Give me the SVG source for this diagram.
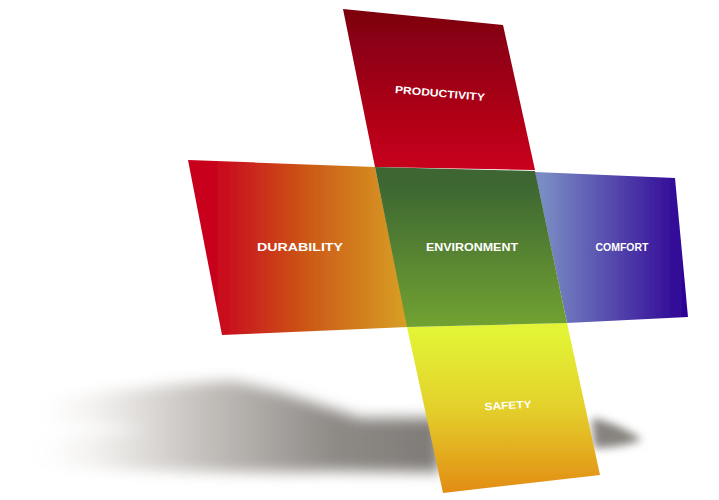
<svg xmlns="http://www.w3.org/2000/svg" width="719" height="500" viewBox="0 0 719 500">
<defs>
<linearGradient id="gTop" x1="0" y1="0" x2="0" y2="1"><stop offset="0" stop-color="#7c0010"/><stop offset="1" stop-color="#c9001c"/></linearGradient>
<linearGradient id="gLeft" x1="0" y1="0" x2="1" y2="0"><stop offset="0.1" stop-color="#c8001c"/><stop offset="0.55" stop-color="#cc5a18"/><stop offset="1" stop-color="#d8a024"/></linearGradient>
<linearGradient id="gMid" x1="0" y1="0" x2="0" y2="1"><stop offset="0.1" stop-color="#3c6632"/><stop offset="1" stop-color="#72a232"/></linearGradient>
<linearGradient id="gRight" x1="0" y1="0" x2="1" y2="0"><stop offset="0.05" stop-color="#7a8cc4"/><stop offset="1" stop-color="#2c0094"/></linearGradient>
<linearGradient id="gBot" x1="0" y1="0" x2="0" y2="1"><stop offset="0.05" stop-color="#e2f434"/><stop offset="0.5" stop-color="#e4d02c"/><stop offset="1" stop-color="#e28c14"/></linearGradient>
<linearGradient id="gShadow" x1="0" y1="0" x2="1" y2="0"><stop offset="0" stop-color="#ffffff" stop-opacity="0"/><stop offset="0.2" stop-color="#f0eeec"/><stop offset="0.45" stop-color="#c2beba"/><stop offset="0.75" stop-color="#8e8a86"/><stop offset="1" stop-color="#7e7a76"/></linearGradient>
<filter id="blur" x="-20%" y="-50%" width="140%" height="200%"><feGaussianBlur stdDeviation="7"/></filter>
<filter id="blur2" x="-50%" y="-100%" width="200%" height="300%"><feGaussianBlur stdDeviation="4"/></filter>
<filter id="soft"><feGaussianBlur stdDeviation="0.6"/></filter>
</defs>
<style>
.lbl{font-family:"Liberation Sans",Arial,sans-serif;font-weight:bold;font-size:10.5px;fill:#ffffff;text-anchor:middle;dominant-baseline:central}
</style>
<g id="shadow">
<path filter="url(#blur)" d="M45,398 C110,392 180,382 232,381 C275,388 320,405 360,418 L440,418 L440,472 L330,471 C250,474 120,470 18,466 L20,438 C70,434 120,432 150,429 C110,425 70,424 45,424 Z" fill="url(#gShadow)"/>
<path filter="url(#blur2)" d="M592,418 C612,422 632,432 642,440 C625,446 607,448 594,448 Z" fill="#86827e"/>
</g>
<g id="productivity">
<polygon points="343,9 503,25 535,170 375,167" fill="url(#gTop)" filter="url(#soft)"/>
<text class="lbl" x="440" y="93" textLength="90" lengthAdjust="spacingAndGlyphs" transform="rotate(5 440 93)">PRODUCTIVITY</text>
</g>
<g id="durability">
<polygon points="188,160 375,167 408,327 222,335" fill="url(#gLeft)" filter="url(#soft)"/>
<text class="lbl" x="300" y="247" textLength="86" lengthAdjust="spacingAndGlyphs">DURABILITY</text>
</g>
<g id="comfort">
<polygon points="535,172 675,178 688,317 567,323" fill="url(#gRight)" filter="url(#soft)"/>
<text class="lbl" x="622" y="247" textLength="53" lengthAdjust="spacingAndGlyphs">COMFORT</text>
</g>
<g id="safety">
<polygon points="407,327 567,323 600,475 443,493" fill="url(#gBot)" filter="url(#soft)"/>
<text class="lbl" x="508" y="405" textLength="47" lengthAdjust="spacingAndGlyphs" transform="rotate(-3 508 405)">SAFETY</text>
</g>
<g id="environment">
<polygon points="375,167 535,171 567,323 407,327" fill="url(#gMid)" filter="url(#soft)"/>
<text class="lbl" x="472" y="247" textLength="92" lengthAdjust="spacingAndGlyphs">ENVIRONMENT</text>
</g>
<g id="connectors"/>
</svg>
